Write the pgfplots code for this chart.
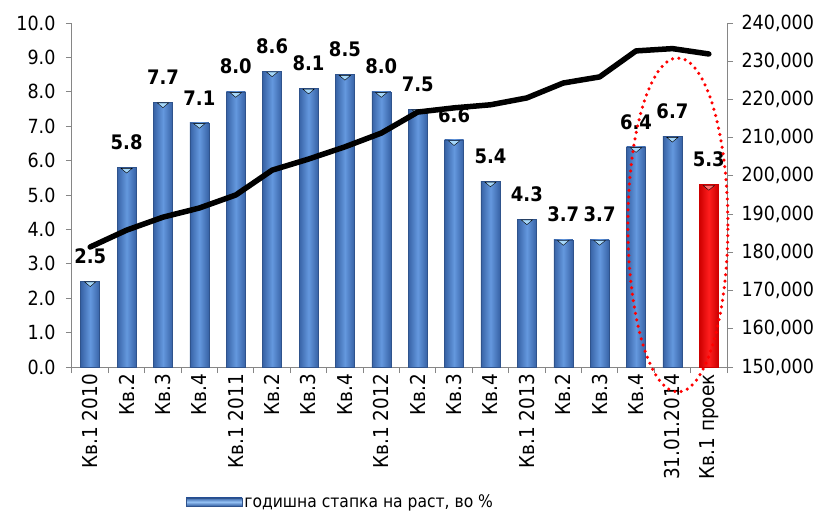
\documentclass[border=0pt]{standalone}
\usepackage{pgfplots}
\pgfplotsset{compat=1.18}
\usepackage{fontspec}
\setmainfont{DejaVu Sans Condensed}
\definecolor{axisgrey}{RGB}{134,134,134}
\definecolor{barDark}{RGB}{55,98,165}
\definecolor{barMid}{RGB}{100,152,222}
\definecolor{barLight}{RGB}{150,195,245}
\definecolor{triBlue}{RGB}{165,215,250}
\definecolor{redDark}{RGB}{205,0,0}
\definecolor{redMid}{RGB}{255,30,30}
\definecolor{triRed}{RGB}{255,110,110}
\pgfplotsset{/pgf/number format/assume math mode=true,
  labels/.style={nodes near coords={\pgfmathprintnumber[fixed,fixed zerofill,precision=1]{\pgfplotspointmeta}},
    nodes near coords style={font=\fontsize{20}{20}\selectfont\bfseries, yshift=14pt, text=black}},
  bluebar/.style={ybar, bar width=19pt, bar shift=0pt, draw=barDark!85!black, line width=0.4pt,
    left color=barDark, right color=barDark, middle color=barMid, labels},
  redbar/.style={ybar, bar width=19pt, bar shift=0pt, draw=redDark, line width=0.4pt,
    left color=redDark, right color=redDark, middle color=redMid, labels},
  tri/.style={only marks, mark=triangle*, mark size=4.5pt, forget plot,
    mark options={yshift=-2.4pt, draw=none, fill=#1, rotate=180, xscale=1.45, yscale=0.7}}}
\newcommand{\bbar}[2]{\addplot[bluebar, forget plot] coordinates {(#1,#2)};}
\begin{document}
\begin{tikzpicture}
\useasboundingbox (0,0) rectangle (822pt,515pt);
\begin{axis}[
  at={(72pt,148pt)}, anchor=south west,
  scale only axis, width=655pt, height=344pt,
  xmin=-0.5, xmax=17.5, ymin=0, ymax=10,
  axis x line*=bottom, axis y line*=left,
  axis line style={draw=axisgrey, line width=1pt, -},
  tick align=outside,
  tick style={draw=axisgrey, line width=1pt},
  major tick length=6pt, minor tick length=6pt,
  xtick={0,...,17},
  major x tick style={draw=none},
  minor xtick={-0.5,0.5,...,17.5},
  xticklabels={Кв.1 2010,Кв.2,Кв.3,Кв.4,Кв.1 2011,Кв.2,Кв.3,Кв.4,Кв.1 2012,Кв.2,Кв.3,Кв.4,Кв.1 2013,Кв.2,Кв.3,Кв.4,31.01.2014,Кв.1 проек},
  x tick label style={rotate=90, anchor=east, font=\fontsize{20.5}{20.5}\selectfont, inner sep=1pt},
  ytick={0,1,...,10},
  y tick label style={font=\fontsize{19.5}{19.5}\selectfont, xshift=-7pt, /pgf/number format/.cd, fixed, fixed zerofill, precision=1},
  legend style={at={(0.41,-0.392)}, anchor=center, draw=none, fill=none, font=\fontsize{17.3}{17.3}\selectfont, inner sep=0pt},
  legend image code/.code={\shade[top color=barDark, bottom color=barDark, middle color=barLight] (0pt,-4pt) rectangle (56pt,4pt);},
]
\addplot[bluebar] coordinates {(0,2.5)};
\addlegendentry{годишна стапка на раст, во \%}
\bbar{1}{5.8}
\bbar{2}{7.7}
\bbar{3}{7.1}
\bbar{4}{8.0}
\bbar{5}{8.6}
\bbar{6}{8.1}
\bbar{7}{8.5}
\bbar{8}{8.0}
\bbar{9}{7.5}
\bbar{10}{6.6}
\bbar{11}{5.4}
\bbar{12}{4.3}
\bbar{13}{3.7}
\bbar{14}{3.7}
\bbar{15}{6.4}
\bbar{16}{6.7}
\addplot[redbar, forget plot] coordinates {(17,5.3)};
\addplot[tri=triBlue] coordinates {(0,2.5) (1,5.8) (2,7.7) (3,7.1) (4,8.0) (5,8.6) (6,8.1) (7,8.5) (8,8.0) (9,7.5) (10,6.6) (11,5.4) (12,4.3) (13,3.7) (14,3.7) (15,6.4) (16,6.7)};
\addplot[tri=triRed] coordinates {(17,5.3)};
\end{axis}
\begin{axis}[
  at={(72pt,148pt)}, anchor=south west,
  scale only axis, width=655pt, height=344pt,
  xmin=-0.5, xmax=17.5, ymin=150000, ymax=240000,
  axis x line=none, axis y line*=right,
  axis line style={draw=axisgrey, line width=1pt, -},
  tick align=outside,
  tick style={draw=axisgrey, line width=1pt},
  major tick length=6pt,
  ytick={150000,160000,...,240000},
  scaled y ticks=false,
  y tick label style={font=\fontsize{19.5}{19.5}\selectfont, xshift=5pt, /pgf/number format/.cd, fixed, precision=0, 1000 sep={,}},
  clip=false,
]
\addplot[black, line width=5.5pt, line join=round, line cap=round] coordinates {
(0,181400) (1,185800) (2,189200) (3,191600) (4,195000) (5,201500) (6,204400) (7,207600) (8,211200)
(9,216700) (10,217800) (11,218600) (12,220400) (13,224300) (14,225900) (15,232700) (16,233300) (17,231900)};
\draw[red, line width=3.5pt, dash pattern=on 0pt off 6.5pt, line cap=round] (axis cs:16.15,187150) ellipse [x radius=50pt, y radius=167pt];
\end{axis}
\end{tikzpicture}
\end{document}
